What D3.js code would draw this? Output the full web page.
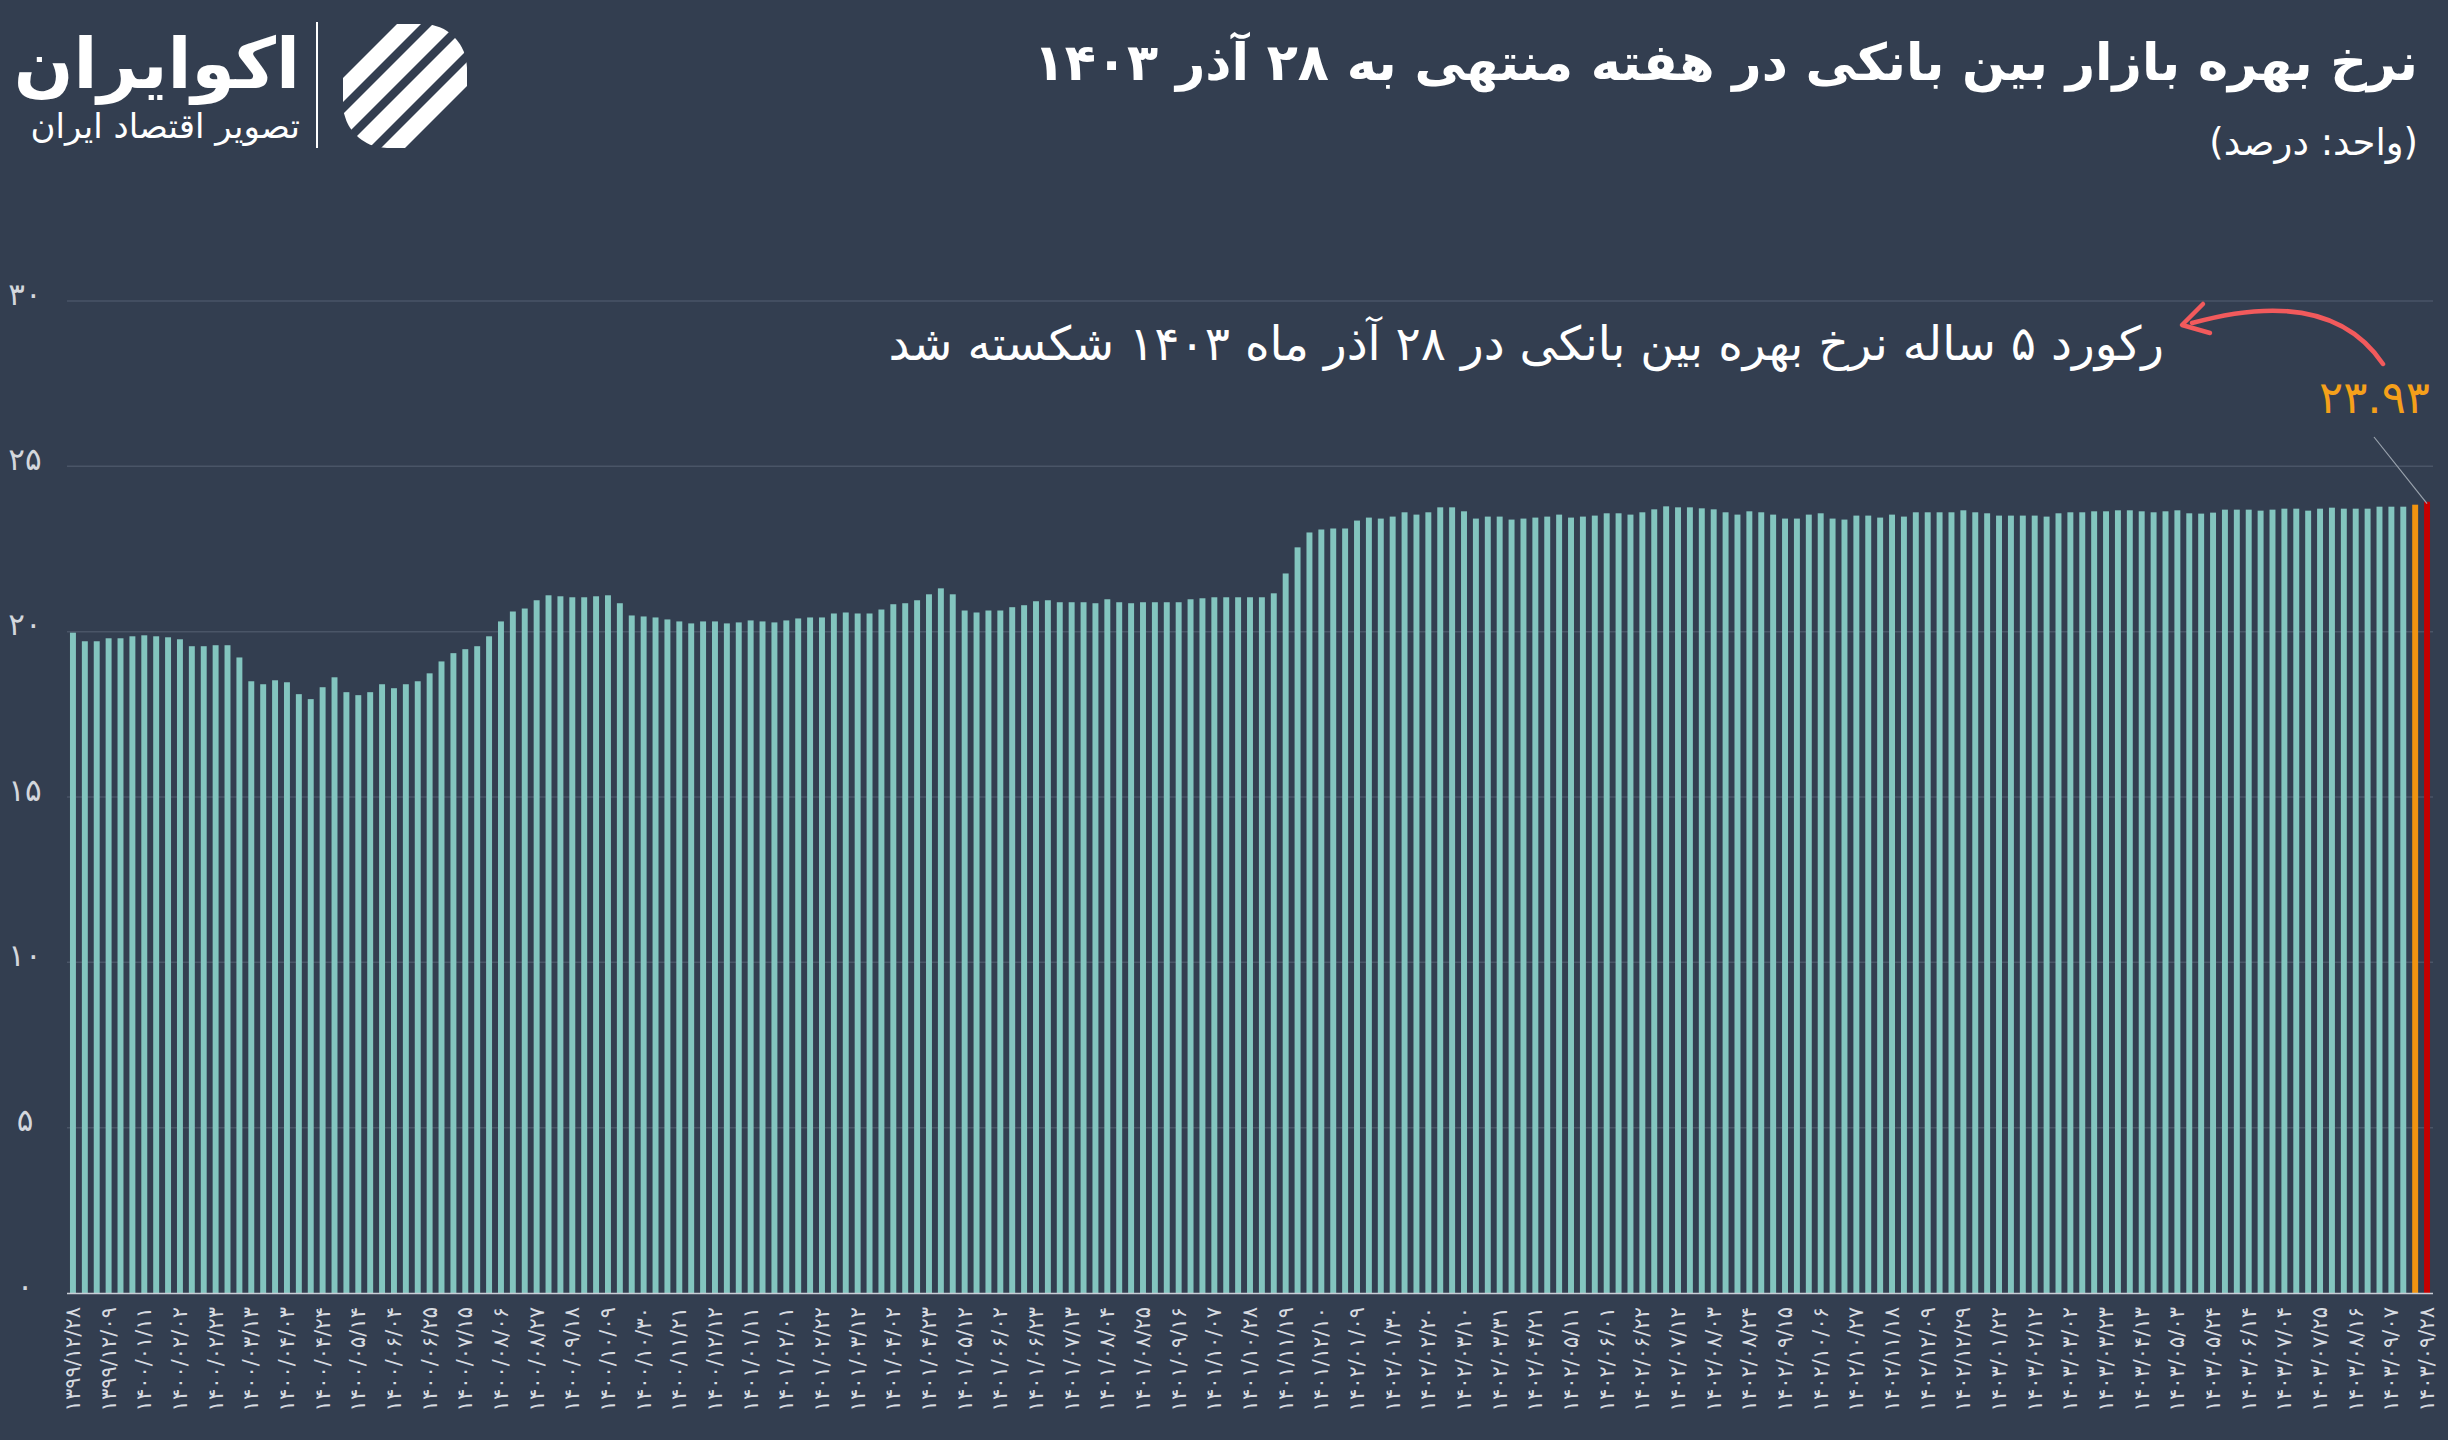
<!DOCTYPE html>
<html><head><meta charset="utf-8">
<script src="https://cdn.jsdelivr.net/npm/d3@7"></script>
<style>
html,body{margin:0;padding:0;background:#333e50;}
svg{display:block;}
text{font-family:"DejaVu Sans",sans-serif;}
</style></head>
<body>
<svg id="chart" width="2448" height="1440"></svg>
<script>
// ---- data ----
const values = [
19.97,19.71,19.71,19.80,19.80,19.86,19.89,19.86,19.83,19.77,
19.56,19.56,19.59,19.59,19.22,18.50,18.41,18.53,18.47,18.11,
17.96,18.32,18.62,18.17,18.08,18.17,18.41,18.29,18.41,18.50,
18.74,19.10,19.35,19.47,19.56,19.86,20.31,20.61,20.70,20.95,
21.10,21.07,21.04,21.04,21.07,21.10,20.86,20.49,20.46,20.43,
20.37,20.31,20.25,20.31,20.31,20.25,20.28,20.34,20.31,20.28,
20.34,20.40,20.43,20.43,20.55,20.58,20.55,20.55,20.67,20.83,
20.86,20.95,21.13,21.31,21.13,20.64,20.58,20.64,20.64,20.74,
20.80,20.92,20.95,20.89,20.89,20.89,20.86,20.98,20.89,20.86,
20.89,20.89,20.89,20.89,20.98,21.01,21.04,21.04,21.04,21.04,
21.04,21.16,21.76,22.55,23.00,23.09,23.12,23.12,23.36,23.45,
23.42,23.48,23.61,23.54,23.61,23.76,23.76,23.64,23.42,23.48,
23.48,23.39,23.42,23.45,23.48,23.54,23.45,23.48,23.51,23.58,
23.58,23.54,23.61,23.70,23.79,23.76,23.76,23.73,23.70,23.61,
23.54,23.64,23.61,23.54,23.42,23.42,23.54,23.58,23.42,23.39,
23.51,23.51,23.45,23.54,23.48,23.61,23.61,23.61,23.61,23.67,
23.61,23.58,23.51,23.51,23.51,23.51,23.48,23.58,23.61,23.61,
23.64,23.64,23.67,23.67,23.64,23.61,23.64,23.67,23.58,23.57,
23.60,23.69,23.69,23.69,23.66,23.69,23.72,23.72,23.66,23.72,
23.75,23.72,23.72,23.72,23.78,23.78,23.78,23.84,23.93
];
const categories = values.map((d,i)=>i);
const tickLabels = [
"1399/12/28","1399/12/09","1400/01/11","1400/02/02","1400/02/23","1400/03/13","1400/04/03","1400/04/24",
"1400/05/14","1400/06/04","1400/06/25","1400/07/15","1400/08/06","1400/08/27","1400/09/18","1400/10/09",
"1400/10/30","1400/11/21","1400/12/12","1401/01/11","1401/02/01","1401/02/22","1401/03/12","1401/04/02",
"1401/04/23","1401/05/12","1401/06/02","1401/06/23","1401/07/13","1401/08/04","1401/08/25","1401/09/16",
"1401/10/07","1401/10/28","1401/11/19","1401/12/10","1402/01/09","1402/01/30","1402/02/20","1402/03/10",
"1402/03/31","1402/04/21","1402/05/11","1402/06/01","1402/06/22","1402/07/12","1402/08/03","1402/08/24",
"1402/09/15","1402/10/06","1402/10/27","1402/11/18","1402/12/09","1402/12/29","1403/01/22","1403/02/12",
"1403/03/02","1403/03/23","1403/04/13","1403/05/03","1403/05/24","1403/06/14","1403/07/04","1403/07/25",
"1403/08/16","1403/09/07","1403/09/28"
];
const tickEvery = 3;
const yTicks = [0,5,10,15,20,25,30];
const titleText = "نرخ بهره بازار بین بانکی در هفته منتهی به ۲۸ آذر ۱۴۰۳";
const subtitleText = "(واحد: درصد)";
const noteText = "رکورد ۵ ساله نرخ بهره بین بانکی در ۲۸ آذر ماه ۱۴۰۳ شکسته شد";
const lastValueText = "۲۳.۹۳";
const brandText = "اکوایران";
const brandSub = "تصویر اقتصاد ایران";

// ---- helpers ----
const fa = s => String(s).replace(/[0-9]/g, d => "۰۱۲۳۴۵۶۷۸۹"[+d]);
const RLM = "\u200F";

const svg = d3.select("#chart");
const W = 2448, H = 1440;
svg.append("rect").attr("width",W).attr("height",H).attr("fill","#333e50");

const x = d3.scaleBand().domain(categories).range([67,2433]).paddingInner(0.5).paddingOuter(0.25);
const y = d3.scaleLinear().domain([0,30]).range([1293,301]);

// gridlines
svg.append("g").selectAll("line").data(yTicks.filter(d=>d>0)).join("line")
  .attr("x1",67).attr("x2",2433).attr("y1",d=>y(d)).attr("y2",d=>y(d))
  .attr("stroke","#4a5567").attr("stroke-width",1.5);

// y labels
svg.append("g").selectAll("text").data(yTicks).join("text")
  .attr("x",25).attr("y",d=>y(d)-5).attr("text-anchor","middle").attr("dominant-baseline","middle")
  .attr("fill","#d3d7dd").attr("font-size",31).text(d=>fa(d));

// bars
const n = values.length;
svg.append("g").selectAll("rect").data(values).join("rect")
  .attr("x",(d,i)=>x(i)).attr("width",x.bandwidth())
  .attr("y",d=>y(d)).attr("height",d=>y(0)-y(d))
  .attr("fill",(d,i)=> i===n-1 ? "#c50000" : (i===n-2 ? "#f29410" : "#83c5bf"));

// baseline
svg.append("line").attr("x1",67).attr("x2",2433).attr("y1",y(0)+0.5).attr("y2",y(0)+0.5)
  .attr("stroke","#c9ced6").attr("stroke-width",1.5);

// x labels
svg.append("g").selectAll("text").data(tickLabels).join("text")
  .attr("transform",(d,i)=>`translate(${x(i*tickEvery)+x.bandwidth()/2+7},1307) rotate(-90)`)
  .attr("text-anchor","end").attr("fill","#d6dae0").attr("font-size",21)
  .attr("direction","ltr")
  .text(d=>fa(d));

// title & subtitle
svg.append("text").attr("x",2418).attr("y",80).attr("text-anchor","end")
  .attr("fill","#ffffff").attr("font-size",51).attr("font-weight","bold")
  .text(RLM+titleText+RLM);
svg.append("text").attr("x",2418).attr("y",155).attr("text-anchor","end")
  .attr("fill","#ffffff").attr("font-size",37)
  .text(RLM+subtitleText+RLM);

// annotation
svg.append("text").attr("x",2164).attr("y",360).attr("text-anchor","end")
  .attr("fill","#ffffff").attr("font-size",47)
  .text(RLM+noteText+RLM);
const lastX = x(n-1)+x.bandwidth()/2;
svg.append("text").attr("x",2430).attr("y",413).attr("text-anchor","end")
  .attr("fill","#f5a01a").attr("font-size",45).text(lastValueText);
svg.append("line").attr("x1",2374).attr("y1",437).attr("x2",lastX).attr("y2",y(values[n-1])+2)
  .attr("stroke","#9aa3ae").attr("stroke-width",1.2);
// curved arrow
svg.append("path").attr("d","M2383,364 Q2330,285 2192,323")
  .attr("fill","none").attr("stroke","#f25a5c").attr("stroke-width",4.5).attr("stroke-linecap","round");
svg.append("path").attr("d","M2203,304 L2182,325 L2210,333")
  .attr("fill","none").attr("stroke","#f25a5c").attr("stroke-width",4.5)
  .attr("stroke-linecap","round").attr("stroke-linejoin","round");

// brand
svg.append("text").attr("x",300).attr("y",88).attr("text-anchor","end")
  .attr("fill","#ffffff").attr("font-size",70).attr("font-weight","bold").text(RLM+brandText+RLM);
svg.append("text").attr("x",300).attr("y",138).attr("text-anchor","end")
  .attr("fill","#ffffff").attr("font-size",34).text(RLM+brandSub+RLM);
svg.append("line").attr("x1",317).attr("x2",317).attr("y1",22).attr("y2",148)
  .attr("stroke","#ffffff").attr("stroke-width",2);
// logo icon
const defs = svg.append("defs");
defs.append("clipPath").attr("id","logoclip").append("rect")
  .attr("x",343).attr("y",24).attr("width",124).attr("height",124).attr("rx",44);
const lg = svg.append("g").attr("clip-path","url(#logoclip)");
[-58,-22,14,50].forEach(o=>{
  lg.append("line").attr("x1",405+o-90).attr("y1",86+90).attr("x2",405+o+90).attr("y2",86-90)
    .attr("stroke","#ffffff").attr("stroke-width",17);
});
</script>
</body></html>
